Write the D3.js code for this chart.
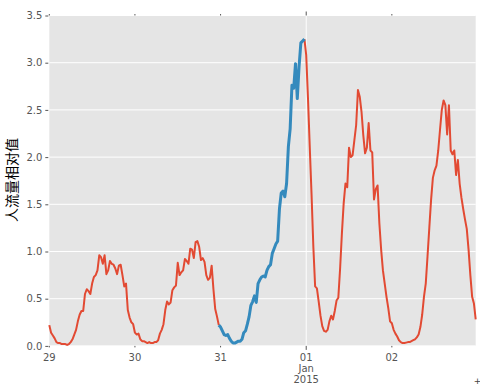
<!DOCTYPE html>
<html>
<head>
<meta charset="utf-8">
<script src="https://cdn.jsdelivr.net/npm/d3@7"></script>
<style>
  body { margin: 0; background: #fff; }
  svg { display: block; }
</style>
</head>
<body>
<div id="chart"></div>
<script>
// Half-hourly values, one array per day
var dec29 = [0.22, 0.14, 0.11, 0.08, 0.04, 0.03, 0.03, 0.02, 0.02, 0.02, 0.01, 0.02,
  0.04, 0.07, 0.12, 0.17, 0.26, 0.33, 0.37, 0.37, 0.55, 0.60, 0.58, 0.55,
  0.66, 0.73, 0.75, 0.80, 0.96, 0.94, 0.87, 0.96, 0.76, 0.80, 0.90, 0.87,
  0.86, 0.82, 0.76, 0.85, 0.86, 0.75, 0.63, 0.66, 0.38, 0.30, 0.25, 0.23];
var dec30 = [0.14, 0.12, 0.13, 0.07, 0.05, 0.05, 0.04, 0.03, 0.04, 0.03, 0.03, 0.04,
  0.04, 0.06, 0.13, 0.17, 0.23, 0.38, 0.47, 0.44, 0.46, 0.59, 0.62, 0.64,
  0.88, 0.75, 0.78, 0.80, 0.92, 0.90, 0.87, 1.03, 1.02, 0.93, 1.10, 1.11,
  1.05, 0.91, 0.93, 0.89, 0.75, 0.70, 0.72, 0.85, 0.60, 0.39, 0.31, 0.22];
var dec31 = [0.20, 0.16, 0.12, 0.11, 0.12, 0.08, 0.05, 0.03, 0.03, 0.04, 0.05, 0.05,
  0.07, 0.14, 0.16, 0.23, 0.31, 0.43, 0.47, 0.53, 0.46, 0.66, 0.70, 0.73,
  0.74, 0.73, 0.80, 0.84, 0.86, 0.98, 1.03, 1.08, 1.11, 1.45, 1.62, 1.64,
  1.58, 1.72, 2.11, 2.30, 2.76, 2.73, 2.99, 2.62, 2.96, 3.21, 3.23, 3.25];
var jan01 = [3.08, 2.62, 2.10, 1.60, 1.05, 0.63, 0.61, 0.47, 0.32, 0.21, 0.16, 0.15,
  0.17, 0.26, 0.32, 0.28, 0.37, 0.48, 0.51, 0.82, 1.19, 1.51, 1.72, 1.68,
  2.10, 2.00, 2.02, 2.18, 2.34, 2.71, 2.64, 2.48, 2.23, 2.04, 2.10, 2.36,
  2.07, 2.05, 1.55, 1.66, 1.70, 1.30, 1.02, 0.80, 0.66, 0.52, 0.40, 0.26];
var jan02 = [0.24, 0.17, 0.13, 0.10, 0.06, 0.04, 0.03, 0.03, 0.035, 0.04, 0.04, 0.05,
  0.06, 0.07, 0.09, 0.12, 0.20, 0.33, 0.52, 0.66, 0.95, 1.25, 1.55, 1.78,
  1.86, 1.91, 2.07, 2.29, 2.50, 2.60, 2.55, 2.24, 2.55, 2.07, 2.03, 2.07,
  1.81, 1.97, 1.72, 1.57, 1.45, 1.34, 1.24, 1.02, 0.75, 0.52, 0.45, 0.28];

// Highlighted stretch (blue), as half-hour indices
var highlightStart = 95;
var highlightEnd = 143;

// Ticks
var yTicks = [0, 0.5, 1, 1.5, 2, 2.5, 3, 3.5];
var dayTicks = [new Date(2014, 11, 29), new Date(2014, 11, 30), new Date(2014, 11, 31),
  new Date(2015, 0, 1), new Date(2015, 0, 2)];
var dayLabels = [["29"], ["30"], ["31"], ["01", "Jan", "2015"], ["02"]];
var majorTick = 3;

var yLabel = "人流量相对值";

var start = new Date(2014, 11, 29);
var values = [].concat(dec29, dec30, dec31, jan01, jan02);
var data = values.map((v, i) => ({ t: d3.timeMinute.offset(start, 30 * i), v: v }));

// Size variables
var width = 480;
var height = 390;
var plotLeft = 49.3, plotRight = 475.7, plotTop = 15.5, plotBottom = 345.9;

var svg = d3.select('#chart')
  .append('svg')
  .attr('width', width)
  .attr('height', height);

var xScale = d3.scaleTime()
  .domain(d3.extent(data, (d) => d.t))
  .range([plotLeft, plotRight]);

var yScale = d3.scaleLinear()
  .domain([0, 3.5])
  .range([plotBottom, plotTop]);

// Background
svg.append('rect')
  .attr('x', plotLeft)
  .attr('y', plotTop)
  .attr('width', plotRight - plotLeft)
  .attr('height', plotBottom - plotTop)
  .attr('fill', '#e5e5e5');

// Grid
svg.append('g')
  .selectAll('line')
  .data(yTicks)
  .enter().append('line')
  .attr('x1', plotLeft)
  .attr('x2', plotRight)
  .attr('y1', (d) => yScale(d))
  .attr('y2', (d) => yScale(d))
  .attr('stroke', '#fff')
  .attr('stroke-width', 1);

svg.append('line')
  .attr('x1', xScale(dayTicks[majorTick]))
  .attr('x2', xScale(dayTicks[majorTick]))
  .attr('y1', plotTop)
  .attr('y2', plotBottom)
  .attr('stroke', '#fff')
  .attr('stroke-width', 1);

// Y Axis
var yAxis = d3.axisLeft(yScale)
  .tickValues(yTicks)
  .tickFormat(d3.format('.1f'))
  .tickSize(3)
  .tickPadding(3);

var yG = svg.append('g')
  .attr('transform', `translate(${plotLeft - 1}, 0)`)
  .call(yAxis);
yG.select('.domain').remove();
yG.selectAll('line').attr('stroke', '#555');
yG.selectAll('text')
  .attr('fill', '#555')
  .style('font-family', 'DejaVu Sans')
  .style('font-size', '10px');

// X Axis ticks
var xG = svg.append('g');
dayTicks.forEach((d, i) => {
  var x = xScale(d);
  var len = i === majorTick ? 4 : 1.5;
  xG.append('line')
    .attr('x1', x).attr('x2', x)
    .attr('y1', plotBottom).attr('y2', plotBottom + len)
    .attr('stroke', '#555');
  xG.append('line')
    .attr('x1', x).attr('x2', x)
    .attr('y1', plotTop).attr('y2', plotTop - len)
    .attr('stroke', '#555');
  var t = xG.append('text')
    .attr('x', x)
    .attr('y', 361)
    .attr('text-anchor', 'middle')
    .attr('fill', '#555')
    .style('font-family', 'DejaVu Sans')
    .style('font-size', '10px');
  dayLabels[i].forEach((s, j) => {
    t.append('tspan')
      .attr('x', x)
      .attr('dy', j === 0 ? 0 : 11)
      .text(s);
  });
});

// Axis label
svg.append('text')
  .attr('transform', 'translate(17, 180) rotate(-90)')
  .attr('text-anchor', 'middle')
  .style('font-family', '"Noto Sans CJK SC"')
  .style('font-size', '14px')
  .attr('fill', '#000')
  .text(yLabel);

// Lines
var line = d3.line()
  .x((d) => xScale(d.t))
  .y((d) => yScale(d.v));

svg.append('path')
  .datum(data.slice(0, highlightStart + 1))
  .attr('fill', 'none')
  .attr('stroke', '#e24a33')
  .attr('stroke-width', 2)
  .attr('stroke-linejoin', 'round')
  .attr('d', line);

svg.append('path')
  .datum(data.slice(highlightEnd))
  .attr('fill', 'none')
  .attr('stroke', '#e24a33')
  .attr('stroke-width', 2)
  .attr('stroke-linejoin', 'round')
  .attr('d', line);

svg.append('path')
  .datum(data.slice(highlightStart, highlightEnd + 1))
  .attr('fill', 'none')
  .attr('stroke', '#348abd')
  .attr('stroke-width', 3)
  .attr('stroke-linejoin', 'round')
  .attr('d', line);

// Small marker at the corner
svg.append('text')
  .attr('x', 477.5)
  .attr('y', 384)
  .attr('text-anchor', 'middle')
  .attr('fill', '#444')
  .style('font-family', 'DejaVu Sans')
  .style('font-size', '9px')
  .text('+');
</script>
</body>
</html>
